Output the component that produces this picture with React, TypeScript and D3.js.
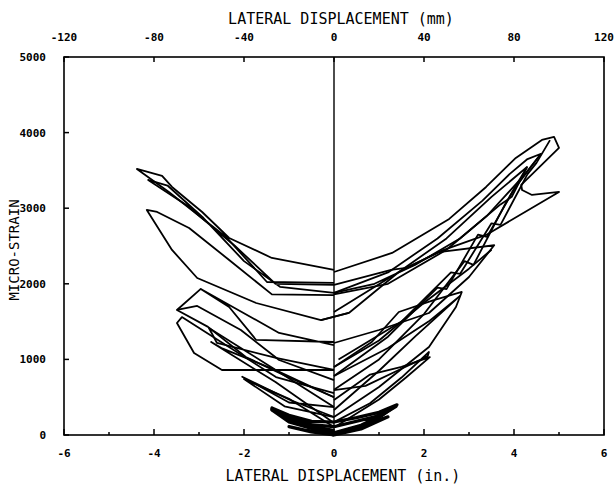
import React from "react";
import * as d3 from "d3";

type P = [number, number];

// x in inches, y in micro-strain
const smallLoops: P[][] = [
  [[0,10],[0.5,90],[1.0,230],[1.4,400],[1.0,300],[0.5,230],[0,172],[-0.5,180],[-1.0,260],[-1.38,357],[-1.0,250],[-0.5,130],[0,30]],
  [[0,30],[0.6,130],[1.05,260],[1.38,380],[0.9,240],[0,110],[-0.6,140],[-1.0,220],[-1.38,340],[-0.9,200],[-0.4,80],[0,0]],
  [[0,60],[-0.5,120],[-1.0,200],[-1.38,330],[-1.0,172],[0,0]],
  [[0,20],[-0.6,60],[-1.0,110],[-0.5,40],[0,0],[0.6,80],[1.2,240],[0.6,120],[0,20]],
];

const rightLoops: P[][] = [
  [[0,2156],[1.29,2408],[2.56,2858],[3.38,3281],[4.04,3665],[4.62,3903],[4.89,3943],[5.0,3797],[4.16,3308],[4.18,3241],[4.4,3175],[5.0,3215],[3.38,2646],[2.44,2448],[1.6,2210],[1.27,2183],[0,1985]],
  [[0,1627],[1.44,2156],[2.5,2600],[3.5,3150],[4.29,3545],[3.95,3150],[3.7,3050],[2.8,2600],[1.8,2250],[0.9,2000],[0,1880]],
  [[0,1880],[1.2,2150],[2.3,2600],[3.3,3100],[3.9,3450],[4.3,3650],[4.6,3720],[4.2,3420],[3.4,2900],[2.5,2450],[1.2,2000],[0,1860]],
  [[0,1217],[1.0,1389],[2.11,1614],[3.0,2090],[3.56,2510],[2.33,2420],[1.44,2156],[0.33,1614],[-0.29,1521]],
  [[0,900],[1.0,1250],[2.0,1750],[3.0,2200],[3.5,2450]],
  [[0,600],[1.0,1000],[2.0,1600],[2.9,2300],[3.1,2250],[3.8,3050],[4.29,3545]],
  [[0,780],[1.2,1300],[2.3,1950],[2.5,1930],[3.2,2650],[3.4,2620],[4.0,3250],[4.6,3720]],
  [[0.1,1000],[1.5,1500],[2.6,2150],[2.8,2130],[3.5,2800],[3.7,2780],[4.3,3450],[4.5,3600],[4.8,3900]],
  [[0,238],[1.0,635],[2.11,1164],[2.71,1693],[2.84,1892],[2.2,1780],[1.44,1627],[0.84,1230],[0,900]],
  [[0,330],[1.0,850],[1.8,1300],[2.8,1840],[2.1,1500],[1.2,1150],[0,780]],
  [[0,170],[0.8,420],[1.5,760],[2.11,1098],[2.08,1040],[1.44,860],[0.7,650],[0,595]],
  [[0,100],[1.0,470],[1.6,760],[2.13,1030],[1.5,900],[0.8,800],[0,463]],
];

const leftLoops: P[][] = [
  [[0,2011],[-1.49,2024],[-2.4,2620],[-3.67,3215],[-4.38,3519],[-3.82,3427],[-3.6,3281],[-2.93,2950],[-2.33,2606],[-1.38,2342],[0,2183]],
  [[0,1985],[-1.3,2000],[-2.2,2500],[-3.3,3050],[-4.13,3374],[-3.7,3300],[-2.9,2870],[-2.0,2300],[-1.2,1960],[0,1880]],
  [[0.33,1614],[-0.29,1521],[-1.73,1746],[-3.04,2077],[-3.6,2448],[-4.16,2977],[-3.93,2950],[-3.22,2738],[-2.33,2315],[-1.38,1860],[0,1850]],
  [[0,1190],[-1.22,1350],[-2.96,1932],[-2.33,1693],[-1.73,1257],[0,1230]],
  [[0,500],[-1.0,760],[-1.96,1032],[-2.8,1430],[-3.49,1654],[-2.96,1932]],
  [[-3.49,1654],[-3.04,1707],[-2.07,1389],[-1.22,992],[0,727]],
  [[0,555],[-1.29,767],[-3.38,1560],[-3.49,1482],[-3.11,1085],[-2.49,860],[0,860]],
  [[0,370],[-1.4,900],[-2.78,1415],[-2.6,1217],[-1.29,1020],[0,860]],
  [[0,160],[-1.3,700],[-2.73,1230],[-2.5,1150],[-1.3,860],[0,500]],
  [[0,238],[-1.0,470],[-2.04,770],[-1.0,430],[0,370]],
  [[0,106],[-1.0,480],[-2.0,740],[-1.1,380],[0,238]],
];

const xTicksIn = [-6, -4, -2, 0, 2, 4, 6];
const xMinorIn = [-5, -3, -1, 1, 3, 5];
const xTicksMm = [-120, -80, -40, 0, 40, 80, 120];
const yTicks = [0, 1000, 2000, 3000, 4000, 5000];

const W = 615, H = 487;
const L = 64, R = 604, T = 57, B = 435;

export default function App() {
  const x = d3.scaleLinear().domain([-6, 6]).range([L, R]);
  const xmm = d3.scaleLinear().domain([-120, 120]).range([L, R]);
  const y = d3.scaleLinear().domain([0, 5000]).range([B, T]);
  const line = d3.line<P>().x(d => x(d[0])).y(d => y(d[1]));
  const tickFont = { fontFamily: "DejaVu Sans Mono", fontWeight: 700, fontSize: 11 } as const;
  const titleFont = { fontFamily: "DejaVu Sans Mono", fontSize: 15 } as const;
  return (
    <svg width={W} height={H} style={{ position: "absolute", left: 0, top: 0, background: "#fff" }}>
      <rect x={0} y={0} width={W} height={H} fill="#fff" />
      <rect x={L} y={T} width={R - L} height={B - T} fill="none" stroke="#000" strokeWidth={1.6} />
      <line x1={x(0)} x2={x(0)} y1={T} y2={B} stroke="#000" strokeWidth={1.4} />
      {xTicksIn.map(t => <line key={"b"+t} x1={x(t)} x2={x(t)} y1={B} y2={B - 6} stroke="#000" strokeWidth={1.5} />)}
      {xMinorIn.map(t => <line key={"m"+t} x1={x(t)} x2={x(t)} y1={B} y2={B - 3} stroke="#000" strokeWidth={1.5} />)}
      {xTicksMm.map(t => <line key={"t"+t} x1={xmm(t)} x2={xmm(t)} y1={T} y2={T + 5} stroke="#000" strokeWidth={1.5} />)}
      {yTicks.map(t => <line key={"y"+t} x1={L} x2={L + 5} y1={y(t)} y2={y(t)} stroke="#000" strokeWidth={1.5} />)}
      {xTicksIn.map(t => <text key={"bl"+t} x={x(t)} y={B + 22} textAnchor="middle" {...tickFont}>{t}</text>)}
      {xTicksMm.map(t => <text key={"tl"+t} x={xmm(t)} y={T - 16} textAnchor="middle" {...tickFont}>{t}</text>)}
      {yTicks.map(t => <text key={"yl"+t} x={L - 18} y={y(t) + 4} textAnchor="end" {...tickFont}>{t}</text>)}
      <text x={341} y={24} textAnchor="middle" {...titleFont}>LATERAL DISPLACEMENT (mm)</text>
      <text x={343} y={481} textAnchor="middle" {...titleFont}>LATERAL DISPLACEMENT (in.)</text>
      <text transform={`translate(19,250) rotate(-90)`} textAnchor="middle" {...titleFont} fontSize={14}>MICRO-STRAIN</text>
      {smallLoops.map((d, i) => <path key={"s"+i} d={line(d) || ""} fill="none" stroke="#000" strokeWidth={3.2} strokeLinejoin="round" />)}
      {rightLoops.map((d, i) => <path key={"r"+i} d={line(d) || ""} fill="none" stroke="#000" strokeWidth={1.8} strokeLinejoin="round" />)}
      {leftLoops.map((d, i) => <path key={"l"+i} d={line(d) || ""} fill="none" stroke="#000" strokeWidth={1.8} strokeLinejoin="round" />)}
    </svg>
  );
}
